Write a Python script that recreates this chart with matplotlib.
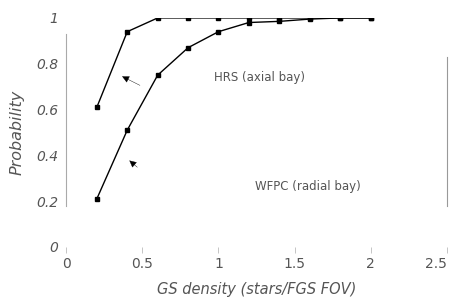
import matplotlib
matplotlib.use('Agg')
from matplotlib import pyplot as plt

# GS density (stars per FGS field of view)
densidad = [0.2, 0.4, 0.6, 0.8, 1.0, 1.2, 1.4, 1.6, 1.8, 2.0]
prob_hrs = [0.61, 0.94, 1.0, 1.0, 1.0, 1.0, 1.0, 1.0, 1.0, 1.0]
prob_wfpc = [0.21, 0.51, 0.75, 0.87, 0.94, 0.98, 0.985, 0.995, 1.0, 1.0]

xticks = [0, 0.5, 1, 1.5, 2, 2.5]
xtick_labels = ['0', '0.5', '1', '1.5', '2', '2.5']
yticks = [0, 0.2, 0.4, 0.6, 0.8, 1]
ytick_labels = ['0', '0.2', '0.4', '0.6', '0.8', '1']

gris = '#555555'

fig = plt.figure(figsize=(4.52, 3.04), dpi=100)
ax = fig.add_axes([0.147, 0.188, 0.841, 0.753])

ax.plot(densidad, prob_hrs, color='black', lw=1, marker='s', ms=3.5)
ax.plot(densidad, prob_wfpc, color='black', lw=1, marker='s', ms=3.5)

ax.set_xlim(0, 2.5)
ax.set_ylim(0, 1)
ax.set_xticks(xticks)
ax.set_xticklabels(xtick_labels, fontsize=10, color=gris)
ax.get_xticklabels()[-1].set_horizontalalignment('right')
ax.set_yticks(yticks)
ax.set_yticklabels(ytick_labels, fontsize=10, color=gris, style='italic')
ax.tick_params(axis='x', length=4, width=0.6, color='#bbbbbb', pad=3)
ax.tick_params(axis='y', length=0, pad=6)

for lado in ['top', 'bottom']:
    ax.spines[lado].set_visible(False)
ax.spines['left'].set_bounds(0.18, 0.93)
ax.spines['left'].set_linestyle((0, (2, 1)))
ax.spines['left'].set_color('#aaaaaa')
ax.spines['left'].set_linewidth(0.8)
ax.spines['right'].set_bounds(0.18, 0.83)
ax.spines['right'].set_color('#999999')
ax.spines['right'].set_linewidth(0.8)

ax.set_xlabel('GS density (stars/FGS FOV)', fontsize=10.5, color=gris,
              style='italic', labelpad=8)
ax.set_ylabel('Probability', fontsize=11.5, color=gris, style='italic',
              labelpad=8)

ax.text(1.27, 0.74, 'HRS (axial bay)', fontsize=8.5, color=gris,
        ha='center', va='center')
ax.text(1.59, 0.265, 'WFPC (radial bay)', fontsize=8.5, color=gris,
        ha='center', va='center')

flecha = dict(arrowstyle='-|>', color='black', lw=0.3, mutation_scale=11)
ax.annotate('', xy=(0.35, 0.75), xytext=(0.50, 0.70), arrowprops=flecha)
ax.annotate('', xy=(0.40, 0.385), xytext=(0.48, 0.34), arrowprops=flecha)

fig.savefig('out.png', dpi=100)
